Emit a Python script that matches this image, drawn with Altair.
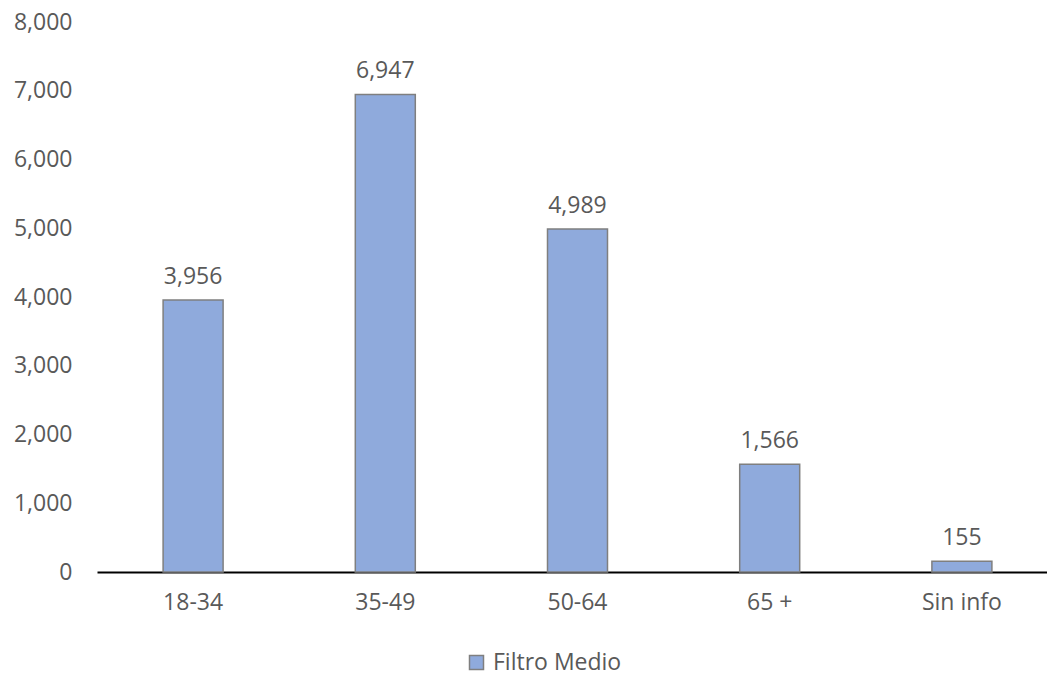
import altair as alt
import pandas as pd

categories = ["18-34", "35-49", "50-64", "65 +", "Sin info"]
values = [3956, 6947, 4989, 1566, 155]
series = "Filtro Medio"

df = pd.DataFrame({"cat": categories, "val": values, "series": [series] * len(categories)})

FONT = "Open Sans"
TXT = "#595959"
FS = 23

x = alt.X("cat:N", sort=categories, title=None,
          scale=alt.Scale(range=[0, 961], paddingInner=0, paddingOuter=0),
          axis=alt.Axis(labelAngle=0, ticks=False, domainColor="black", domainWidth=2,
                        labelPadding=19, labelFontSize=FS, labelColor=TXT, labelFont=FONT))
y = alt.Y("val:Q", title=None,
          scale=alt.Scale(domain=[0, 8000]),
          axis=alt.Axis(values=list(range(0, 8001, 1000)), format=",.0f", grid=False, ticks=False,
                        domain=False, labelPadding=25, labelFontSize=FS, labelColor=TXT,
                        labelFont=FONT))

bars = alt.Chart(df).mark_bar(size=60, stroke="#7f7f7f", strokeWidth=1.5).encode(
    x=x, y=y,
    color=alt.Color("series:N", title=None,
                    scale=alt.Scale(range=["#8FAADC"]),
                    legend=alt.Legend(orient="none", legendX=368, legendY=629, padding=0,
                                      symbolType="square", symbolSize=196,
                                      symbolStrokeColor="#7f7f7f", symbolStrokeWidth=1.5,
                                      labelFontSize=FS, labelColor=TXT, labelFont=FONT,
                                      labelOffset=5))
)

labels = alt.Chart(df).mark_text(baseline="bottom", dy=-11, fontSize=FS, color=TXT, font=FONT).encode(
    x=alt.X("cat:N", sort=categories),
    y=alt.Y("val:Q"),
    text=alt.Text("val:Q", format=",.0f")
)

chart = (bars + labels).properties(
    width=950, height=550,
    autosize=alt.AutoSizeParams(type="none"),
    padding={"left": 97, "top": 22, "right": 0, "bottom": 103},
    background="white"
).configure_view(stroke=None)

chart.save("out.html", embed_options={"renderer": "svg", "actions": False})
